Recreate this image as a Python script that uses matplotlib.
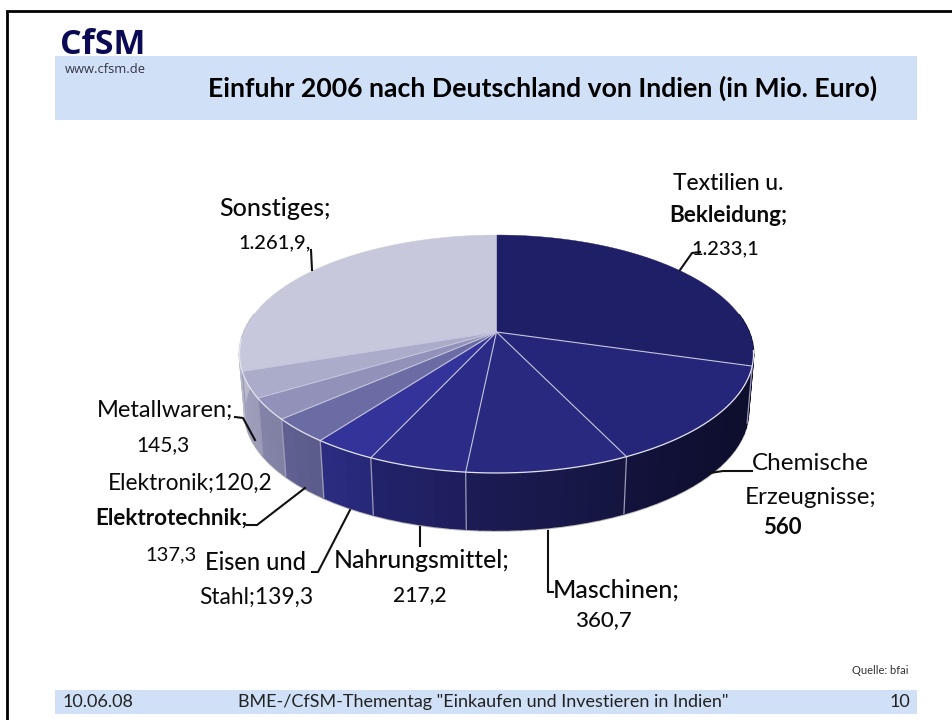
import numpy as np
import matplotlib
matplotlib.use("Agg")
import matplotlib.pyplot as plt

categories = ["Textilien u. Bekleidung", "Chemische Erzeugnisse", "Maschinen", "Nahrungsmittel",
              "Eisen und Stahl", "Elektrotechnik", "Elektronik", "Metallwaren", "Sonstiges"]
values = [1233.1, 560, 360.7, 217.2, 139.3, 137.3, 120.2, 145.3, 1261.9]
colors = ["#1f1f68", "#25257a", "#29297f", "#2c2c88", "#333399",
          "#6c6ca5", "#9191b9", "#ababca", "#c8c8dc"]

W, H = 953, 720
fig = plt.figure(figsize=(W / 100, H / 100), dpi=100, facecolor="white")
ax = fig.add_axes([0, 0, 1, 1])
ax.set_xlim(0, W)
ax.set_ylim(H, 0)
ax.axis("off")
FONT = "Lato"

# slide furniture
BAND = "#d0e0f7"
ax.fill_between([55, 917], 56, 120, color=BAND, lw=0, zorder=1)
ax.fill_between([55, 917], 690, 714, color=BAND, lw=0, zorder=1)
ax.plot([7, 7, W], [H, 10.5, 10.5], color="black", lw=2, solid_joinstyle="miter", zorder=2)

# perspective pie
CX, CY, A, B, K = 496.5, 332, 252.6, 114.9, 0.185
DEPTH, SHRINK = 57, 0.98


def rim(theta, lower=False):
    u, v = np.sin(theta), np.cos(theta)
    d = 1 + K * v
    x, y = A * u / d, -B * v / d
    if lower:
        return CX + x * SHRINK, CY + y + DEPTH
    return CX + x, CY + y


def shade(hexcol, x):
    f = np.clip(0.93 - 0.57 * (x - 239) / 515, 0.3, 1)
    return tuple(c * f for c in matplotlib.colors.to_rgb(hexcol))


vals = np.array(values, dtype=float)
edges = np.concatenate([[0], np.cumsum(vals)]) / vals.sum() * 2 * np.pi

# bottom rim glow
th = np.linspace(np.pi * 0.5, np.pi * 1.5, 200)
bx, by = rim(th, True)
ax.plot(bx, by + 0.7, color="#b4b4b8", lw=1.6, zorder=3)

# side walls, front part only
for i, col in enumerate(colors):
    a0, a1 = edges[i], edges[i + 1]
    lo, hi = max(a0, np.pi * 0.45), min(a1, np.pi * 1.55)
    if hi <= lo:
        continue
    ts = np.linspace(lo, hi, max(3, int((hi - lo) * 24)))
    for t0, t1 in zip(ts[:-1], ts[1:]):
        x0, y0 = rim(t0)
        x1, y1 = rim(t1)
        x2, y2 = rim(t1, True)
        x3, y3 = rim(t0, True)
        c = shade(col, (x0 + x1) / 2)
        ax.fill([x0, x1, x2, x3], [y0, y1, y2, y3], facecolor=c, edgecolor=c, lw=1.2, zorder=4)

for e in edges[1:-1]:
    if np.pi * 0.55 < e < np.pi * 1.5:
        x0, y0 = rim(e)
        x1, y1 = rim(e, True)
        ax.plot([x0, x1], [y0, y1], color="#9a9ab8", lw=0.9, zorder=5)

# top faces
for i, col in enumerate(colors):
    ts = np.linspace(edges[i], edges[i + 1], 160)
    x, y = rim(ts)
    ax.fill(np.r_[CX, x], np.r_[CY, y], facecolor=col, edgecolor=col, lw=0.3, zorder=6)

# slice dividers and front highlight
for e in edges[1:-1]:
    x, y = rim(e)
    ax.plot([CX, x], [CY, y], color="#c4c4dc", lw=0.8, zorder=7)
ts = np.linspace(np.pi * 0.55, np.pi * 1.48, 200)
x, y = rim(ts)
ax.plot(x, y, color="#e4e4f0", lw=0.9, zorder=7)

# leaders
leaders = [
    ([680, 692, 700], [270, 253, 252]),
    ([311, 312], [250, 270]),
    ([235, 243, 255], [417, 418, 440]),
    ([247, 257, 305], [525, 525, 488]),
    ([312, 318, 350], [572, 572, 510]),
    ([420, 420], [527, 546]),
    ([548, 548, 553], [531, 592, 592]),
    ([710, 723, 752], [473, 471, 471]),
]
for lx, ly in leaders:
    ax.plot(lx, ly, color="#111111", lw=1.5, zorder=8)

# labels: text, x, y, weight, size
labels = [
    ("Textilien u.", 728, 183, 500, 16.4), ("Bekleidung;", 728, 216, 700, 16.2), ("1.233,1", 725, 249, 500, 14.5),
    ("Sonstiges;", 275, 208, 500, 18), ("1.261,9,", 275, 243, 500, 14.5),
    ("Metallwaren;", 165, 410, 400, 17), ("145,3", 163, 445, 400, 15),
    ("Elektronik;120,2", 190, 483, 400, 16.3),
    ("Elektrotechnik;", 171, 518, 700, 16.2), ("137,3", 171, 555, 400, 14.5),
    ("Eisen und", 256, 563, 500, 17), ("Stahl;139,3", 256, 597, 400, 16.4),
    ("Nahrungsmittel;", 422, 561, 500, 17.8), ("217,2", 420, 595, 500, 15),
    ("Maschinen;", 616, 590, 500, 18), ("360,7", 603, 620, 500, 16),
    ("Chemische", 810, 463, 400, 17.5), ("Erzeugnisse;", 811, 497, 400, 17.4), ("560", 782, 528, 700, 16),
]
for s, x, y, w, fs in labels:
    ax.text(x, y, s, ha="center", va="center", fontsize=fs, fontweight=w, family=FONT,
            color="#0a0a0a", zorder=9)

# header and footer
ax.text(60, 45, "CfSM", ha="left", va="center", fontsize=24.5, fontweight="bold", family="Open Sans",
        color="#0b0b55", zorder=9)
ax.text(65, 69.5, "www.cfsm.de", ha="left", va="center", fontsize=9.3, family="Open Sans", color="#333344", zorder=9)
ax.text(208, 88, "Einfuhr 2006 nach Deutschland von Indien (in Mio. Euro)", ha="left", va="center",
        fontsize=19.2, fontweight="bold", family=FONT, color="black", zorder=9)
ax.text(909, 671, "Quelle: bfai", ha="right", va="center", fontsize=8, family=FONT, color="#333333", zorder=9)
ax.text(63, 702, "10.06.08", ha="left", va="center", fontsize=13, family=FONT, color="#222222", zorder=9)
ax.text(238, 702, 'BME-/CfSM-Thementag "Einkaufen und Investieren in Indien"', ha="left", va="center",
        fontsize=13, family=FONT, color="#222222", zorder=9)
ax.text(910, 702, "10", ha="right", va="center", fontsize=13, family=FONT, color="#222222", zorder=9)

fig.savefig("out.png", dpi=100, facecolor="white")
